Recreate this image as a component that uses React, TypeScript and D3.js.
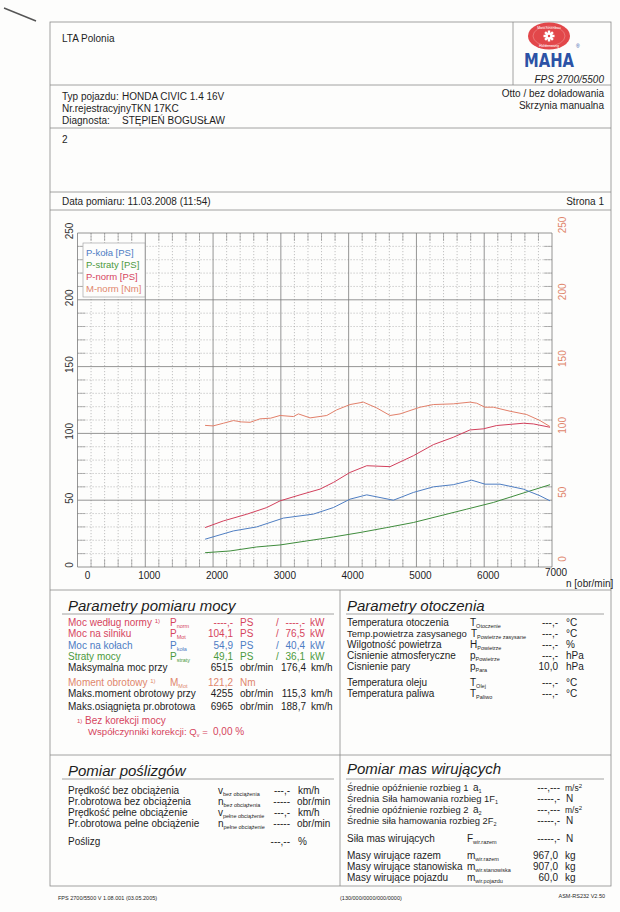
import React from 'react';
import * as d3 from 'd3';

const rpmTicks = [0, 1000, 2000, 3000, 4000, 5000, 6000, 7000];
const leftTicks = [0, 50, 100, 150, 200, 250];
const rightTicks = [0, 50, 100, 150, 200, 250];
const legendLabels = ['P-koła [PS]', 'P-straty [PS]', 'P-norm [PS]', 'M-norm [Nm]'];

const kolaRpm = [1882, 2300, 2644, 3037, 3480, 3775, 4021, 4267, 4660, 4955, 5250, 5544, 5815, 6012, 6233, 6577, 6823, 6971];
const kolaPS = [20.8, 27, 30, 36.6, 39.6, 44.5, 50.8, 54, 50, 55.8, 60, 61.6, 65, 62, 62, 58.3, 53.3, 49.5];

const stratyRpm = [1882, 2251, 2644, 2988, 3382, 3775, 4168, 4562, 4955, 5348, 5742, 6135, 6528, 6971];
const stratyPS = [10.7, 12, 15, 16.5, 19.5, 22.5, 25.8, 29.5, 33.3, 38.3, 43.3, 48.3, 54.6, 61.6];

const normRpm = [1882, 2152, 2497, 2792, 2988, 3283, 3578, 3775, 4021, 4267, 4611, 4955, 5250, 5544, 5790, 5987, 6184, 6577, 6725, 6971];
const normPS = [29.5, 34.5, 39.5, 44.5, 49.5, 54, 58.3, 63.3, 70.8, 75.8, 75.1, 83.3, 91.6, 97.1, 102.6, 103.4, 105.9, 107.6, 107.1, 104.6];

const torqueRpm = [1882, 2000, 2152, 2300, 2420, 2546, 2693, 2850, 2988, 3185, 3259, 3431, 3677, 3824, 4021, 4217, 4413, 4611, 4758, 5053, 5250, 5544, 5790, 5889, 6012, 6135, 6381, 6627, 6823, 6971];
const torqueNm = [106, 105.6, 107.6, 109.6, 108.6, 108.3, 110.9, 111.4, 113.4, 112.6, 114.6, 111.6, 113.4, 117.6, 121.6, 123.4, 119.1, 113.4, 114.6, 119.6, 121.6, 122.1, 123.4, 122.6, 119.6, 119.6, 116.6, 114.1, 109.6, 105.1];

const C_BLUE = '#4f7ec2';
const C_GREEN = '#3f8c3c';
const C_RED = '#d2405c';
const C_ORANGE = '#e2806a';
const T_RED = '#d6455e';
const T_BLUE = '#4d7cc4';
const T_GREEN = '#4c9a3c';
const T_ORANGE = '#e0866c';
const INK = '#1e1e1e';
const LINE = '#8a8a8a';
const FONT = '"Liberation Sans", Arial, sans-serif';

function Sym({ x, y, main, sub, fill = INK, size = 10 }: any) {
  return (
    <text x={x} y={y} fontSize={size} fill={fill} fontFamily={FONT}>
      {main}
      <tspan fontSize={5.5} dy={2}>{sub}</tspan>
    </text>
  );
}

function T({ x, y, children, fill = INK, size = 10, anchor = 'start', italic = false, weight = 'normal' }: any) {
  return (
    <text x={x} y={y} fontSize={size} fill={fill} fontFamily={FONT} textAnchor={anchor}
      fontStyle={italic ? 'italic' : 'normal'} fontWeight={weight}>{children}</text>
  );
}

export default function App() {
  const x = d3.scaleLinear().domain([0, 7000]).range([77.5, 552]);
  const y = d3.scaleLinear().domain([0, 250]).range([567, 233]);
  const minorX = d3.range(0, 7001, 200);
  const minorY = d3.range(0, 251, 10);
  const mk = (rs: number[], vs: number[]) =>
    d3.line<[number, number]>().x(d => x(d[0])).y(d => y(d[1]))(rs.map((r, i) => [r, vs[i]] as [number, number])) || '';

  const series = [
    { d: mk(stratyRpm, stratyPS), c: C_GREEN },
    { d: mk(kolaRpm, kolaPS), c: C_BLUE },
    { d: mk(normRpm, normPS), c: C_RED },
    { d: mk(torqueRpm, torqueNm), c: C_ORANGE },
  ];
  const legendColors = [T_BLUE, T_GREEN, T_RED, T_ORANGE];

  const L = 50, R = 611;
  const x0 = x(0), x1 = x(7000), yTop = y(250), yBot = y(0);

  const gear = d3.range(8).map(i => i * 45);
  const lcx = 549, lcy = 36;

  return (
    <div style={{ position: 'absolute', left: 0, top: 0 }}>
      <svg width={620} height={912} style={{ display: 'block', background: '#fdfdfc' }}>
        <rect x={0} y={0} width={620} height={912} fill="#fdfdfc" />
        <line x1={4} y1={8} x2={36} y2={21} stroke="#555" strokeWidth={1.4} />

        <g stroke={LINE} strokeWidth={0.8} fill="none">
          <rect x={L} y={22} width={R - L} height={864} />
          <line x1={L} y1={85} x2={R} y2={85} />
          <line x1={513} y1={22} x2={513} y2={85} />
          <line x1={L} y1={128} x2={R} y2={128} />
          <line x1={L} y1={192} x2={R} y2={192} />
          <line x1={L} y1={210} x2={R} y2={210} />
          <line x1={L} y1={590} x2={R} y2={590} />
          <line x1={340} y1={590} x2={340} y2={886} />
          <line x1={L} y1={755} x2={R} y2={755} />
          <line x1={62} y1={614} x2={334} y2={614} />
          <line x1={346} y1={614} x2={604} y2={614} />
          <line x1={62} y1={779} x2={334} y2={779} />
          <line x1={346} y1={779} x2={604} y2={779} />
        </g>

        <T x={62} y={42}>LTA Polonia</T>
        <g>
          <ellipse cx={lcx} cy={lcy} rx={21} ry={13.5} fill="#e2474a" />
          <ellipse cx={lcx} cy={lcy} rx={16} ry={9.8} fill="none" stroke="#f3a0a0" strokeWidth={0.5} />
          {gear.map(a => (
            <rect key={a} x={lcx - 1.2} y={lcy - 5.5} width={2.4} height={3.5} fill="#fff"
              transform={`rotate(${a} ${lcx} ${lcy})`} />
          ))}
          <circle cx={lcx} cy={lcy} r={3.6} fill="#fff" />
          <circle cx={lcx} cy={lcy} r={1.2} fill="#e2474a" />
          <text x={lcx} y={lcy - 7.5} fontSize={3.6} fill="#fff" textAnchor="middle" fontFamily={FONT}>Maschinenbau</text>
          <text x={lcx} y={lcy + 10.5} fontSize={3.6} fill="#fff" textAnchor="middle" fontFamily={FONT}>Haldenwang</text>
          <text x={lcx} y={67} fontSize={19} fontWeight="bold" fill="#2c52a6" textAnchor="middle"
            fontFamily='"DejaVu Sans", sans-serif' textLength={50} lengthAdjust="spacingAndGlyphs">MAHA</text>
          <text x={576} y={48} fontSize={5} fill="#2c52a6" fontFamily={FONT}>®</text>
          <T x={604} y={83} anchor="end" italic size={10}>FPS 2700/5500</T>
        </g>

        <T x={62} y={100}>Typ pojazdu:</T>
        <T x={122} y={100}>HONDA CIVIC 1.4 16V</T>
        <T x={62} y={112}>Nr.rejestracyjnyTKN 17KC</T>
        <T x={62} y={124}>Diagnosta:</T>
        <T x={122} y={124}>STĘPIEŃ BOGUSŁAW</T>
        <T x={604} y={97} anchor="end">Otto / bez doładowania</T>
        <T x={604} y={109} anchor="end">Skrzynia manualna</T>
        <T x={62} y={143}>2</T>
        <T x={62} y={205}>Data pomiaru: 11.03.2008 (11:54)</T>
        <T x={604} y={205} anchor="end">Strona 1</T>

        <g>
          {minorX.filter(v => v % 1000 !== 0).map(v => (
            <g key={'vx' + v}>
              <line x1={x(v)} x2={x(v)} y1={yTop} y2={yBot} stroke="#9a9a9a" strokeWidth={0.6} strokeDasharray="1.2,1.8" />
              <line x1={x(v)} x2={x(v)} y1={yTop} y2={yTop + 8} stroke="#888" strokeWidth={0.6} />
              <line x1={x(v)} x2={x(v)} y1={yBot - 8} y2={yBot} stroke="#888" strokeWidth={0.6} />
            </g>
          ))}
          {minorY.filter(v => v % 50 !== 0).map(v => (
            <g key={'hy' + v}>
              <line x1={x0} x2={x1} y1={y(v)} y2={y(v)} stroke="#9a9a9a" strokeWidth={0.6} strokeDasharray="1.2,1.8" />
              <line x1={x0} x2={x0 + 8} y1={y(v)} y2={y(v)} stroke="#888" strokeWidth={0.6} />
              <line x1={x1 - 8} x2={x1} y1={y(v)} y2={y(v)} stroke="#888" strokeWidth={0.6} />
            </g>
          ))}
          {rpmTicks.map(v => (
            <line key={'mx' + v} x1={x(v)} x2={x(v)} y1={yTop} y2={yBot} stroke="#7a7a7a" strokeWidth={0.8} />
          ))}
          {leftTicks.map(v => (
            <line key={'my' + v} x1={x0} x2={x1} y1={y(v)} y2={y(v)} stroke="#7a7a7a" strokeWidth={0.8} />
          ))}
        </g>

        {series.map((s, i) => (
          <path key={i} d={s.d} fill="none" stroke={s.c} strokeWidth={1} />
        ))}

        {rpmTicks.map(v => (
          <T key={'xl' + v} x={x(v) + (v === 0 ? 10 : 4)} y={v === 7000 ? 576 : 579} anchor="middle">{v}</T>
        ))}
        <T x={566} y={587}>n [obr/min]</T>
        {leftTicks.map(v => (
          <text key={'yl' + v} transform={`translate(73,${y(v) - 2}) rotate(-90)`} fontSize={10}
            fill="#333" textAnchor="middle" fontFamily={FONT}>{v}</text>
        ))}
        {rightTicks.map(v => (
          <text key={'yr' + v} transform={`translate(566,${y(v) - 8}) rotate(-90)`} fontSize={10}
            fill={T_ORANGE} textAnchor="middle" fontFamily={FONT}>{v}</text>
        ))}

        <rect x={83} y={243} width={62} height={54} fill="#fdfdfc" stroke="#999" strokeWidth={0.6} />
        {legendLabels.map((l, i) => (
          <T key={l} x={86} y={256 + i * 12} fill={legendColors[i]} size={9.5}>{l}</T>
        ))}

        {/* Parametry pomiaru mocy */}
        <T x={68} y={611} size={15} italic>Parametry pomiaru mocy</T>
        <T x={68} y={626} fill={T_RED}>Moc według normy <tspan fontSize={6} dy={-3}>1)</tspan></T>
        <Sym x={170} y={626} main="P" sub="norm" fill={T_RED} />
        <T x={233} y={626} anchor="end" fill={T_RED}>----,-</T>
        <T x={240} y={626} fill={T_RED}>PS</T>
        <T x={276} y={626} fill={T_RED}>/</T>
        <T x={305} y={626} anchor="end" fill={T_RED}>----,-</T>
        <T x={310} y={626} fill={T_RED}>kW</T>

        <T x={68} y={637} fill={T_RED}>Moc na silniku</T>
        <Sym x={170} y={637} main="P" sub="Mot" fill={T_RED} />
        <T x={233} y={637} anchor="end" fill={T_RED}>104,1</T>
        <T x={240} y={637} fill={T_RED}>PS</T>
        <T x={276} y={637} fill={T_RED}>/</T>
        <T x={305} y={637} anchor="end" fill={T_RED}>76,5</T>
        <T x={310} y={637} fill={T_RED}>kW</T>

        <T x={68} y={649} fill={T_BLUE}>Moc na kołach</T>
        <Sym x={170} y={649} main="P" sub="koła" fill={T_BLUE} />
        <T x={233} y={649} anchor="end" fill={T_BLUE}>54,9</T>
        <T x={240} y={649} fill={T_BLUE}>PS</T>
        <T x={276} y={649} fill={T_BLUE}>/</T>
        <T x={305} y={649} anchor="end" fill={T_BLUE}>40,4</T>
        <T x={310} y={649} fill={T_BLUE}>kW</T>

        <T x={68} y={660} fill={T_GREEN}>Straty mocy</T>
        <Sym x={170} y={660} main="P" sub="straty" fill={T_GREEN} />
        <T x={233} y={660} anchor="end" fill={T_GREEN}>49,1</T>
        <T x={240} y={660} fill={T_GREEN}>PS</T>
        <T x={276} y={660} fill={T_GREEN}>/</T>
        <T x={305} y={660} anchor="end" fill={T_GREEN}>36,1</T>
        <T x={310} y={660} fill={T_GREEN}>kW</T>

        <T x={68} y={671}>Maksymalna moc przy</T>
        <T x={233} y={671} anchor="end">6515</T>
        <T x={240} y={671}>obr/min</T>
        <T x={306} y={671} anchor="end">176,4</T>
        <T x={311} y={671}>km/h</T>

        <T x={68} y={686} fill={T_ORANGE}>Moment obrotowy <tspan fontSize={6} dy={-3}>1)</tspan></T>
        <Sym x={170} y={686} main="M" sub="Mot" fill={T_ORANGE} />
        <T x={233} y={686} anchor="end" fill={T_ORANGE}>121,2</T>
        <T x={240} y={686} fill={T_ORANGE}>Nm</T>

        <T x={68} y={697}>Maks.moment obrotowy przy</T>
        <T x={233} y={697} anchor="end">4255</T>
        <T x={240} y={697}>obr/min</T>
        <T x={306} y={697} anchor="end">115,3</T>
        <T x={311} y={697}>km/h</T>

        <T x={68} y={710}>Maks.osiągnięta pr.obrotowa</T>
        <T x={233} y={710} anchor="end">6965</T>
        <T x={240} y={710}>obr/min</T>
        <T x={306} y={710} anchor="end">188,7</T>
        <T x={311} y={710}>km/h</T>

        <T x={77} y={724} fill={T_RED}><tspan fontSize={6} dy={-1}>1)</tspan><tspan dy={1}> Bez korekcji mocy</tspan></T>
        <T x={88} y={735} fill={T_RED} size={9.6}>Współczynniki korekcji: Q<tspan fontSize={5.5} dy={2}>v</tspan><tspan dy={-2}> =</tspan></T>
        <T x={213} y={735} fill={T_RED}>0,00 %</T>

        {/* Parametry otoczenia */}
        <T x={347} y={611} size={15} italic>Parametry otoczenia</T>
        <T x={347} y={626}>Temperatura otoczenia</T>
        <Sym x={470} y={626} main="T" sub="Otoczenie" />
        <T x={558} y={626} anchor="end">---,-</T>
        <T x={566} y={626}>°C</T>
        <T x={347} y={637} size={9.5}>Temp.powietrza zasysanego</T>
        <Sym x={471} y={637} main="T" sub="Powietrze zasysane" />
        <T x={558} y={637} anchor="end">---,-</T>
        <T x={566} y={637}>°C</T>
        <T x={347} y={648}>Wilgotność powietrza</T>
        <Sym x={470} y={648} main="H" sub="Powietrze" />
        <T x={558} y={648} anchor="end">---,-</T>
        <T x={566} y={648}>%</T>
        <T x={347} y={659}>Cisnienie atmosferyczne</T>
        <Sym x={470} y={659} main="p" sub="Powietrze" />
        <T x={558} y={659} anchor="end">---,-</T>
        <T x={566} y={659}>hPa</T>
        <T x={347} y={670}>Cisnienie pary</T>
        <Sym x={470} y={670} main="p" sub="Para" />
        <T x={558} y={670} anchor="end">10,0</T>
        <T x={566} y={670}>hPa</T>
        <T x={347} y={686}>Temperatura oleju</T>
        <Sym x={470} y={686} main="T" sub="Olej" />
        <T x={558} y={686} anchor="end">---,-</T>
        <T x={566} y={686}>°C</T>
        <T x={347} y={697}>Temperatura paliwa</T>
        <Sym x={470} y={697} main="T" sub="Paliwo" />
        <T x={558} y={697} anchor="end">---,-</T>
        <T x={566} y={697}>°C</T>

        {/* Pomiar poślizgów */}
        <T x={68} y={776} size={15} italic>Pomiar poślizgów</T>
        <T x={68} y={794}>Prędkość bez obciążenia</T>
        <Sym x={218} y={794} main="v" sub="bez obciążenia" />
        <T x={290} y={794} anchor="end">---,-</T>
        <T x={298} y={794}>km/h</T>
        <T x={68} y={805}>Pr.obrotowa bez obciążenia</T>
        <Sym x={218} y={805} main="n" sub="bez obciążenia" />
        <T x={290} y={805} anchor="end">-----</T>
        <T x={297} y={805}>obr/min</T>
        <T x={68} y={816}>Prędkość pełne obciążenie</T>
        <Sym x={218} y={816} main="v" sub="pełne obciążenie" />
        <T x={290} y={816} anchor="end">---,-</T>
        <T x={298} y={816}>km/h</T>
        <T x={68} y={827}>Pr.obrotowa pełne obciążenie</T>
        <Sym x={218} y={827} main="n" sub="pełne obciążenie" />
        <T x={290} y={827} anchor="end">-----</T>
        <T x={297} y={827}>obr/min</T>
        <T x={68} y={845}>Poślizg</T>
        <T x={290} y={845} anchor="end">---,--</T>
        <T x={298} y={845}>%</T>

        {/* Pomiar mas wirujących */}
        <T x={347} y={774} size={15} italic>Pomiar mas wirujących</T>
        <T x={347} y={791} size={9.4}>Średnie opóźnienie rozbieg 1</T>
        <Sym x={473} y={791} main="a" sub="1" />
        <T x={560} y={791} anchor="end">---,---</T>
        <T x={565} y={791} size={8.5}>m/s<tspan fontSize={6} dy={-3}>2</tspan></T>
        <T x={347} y={802} size={9.4}>Średnia Siła hamowania rozbieg 1F<tspan fontSize={5.5} dy={2}>1</tspan></T>
        <T x={560} y={802} anchor="end">-----,-</T>
        <T x={566} y={802}>N</T>
        <T x={347} y={813} size={9.4}>Średnie opóźnienie rozbieg 2</T>
        <Sym x={473} y={813} main="a" sub="2" />
        <T x={560} y={813} anchor="end">---,---</T>
        <T x={565} y={813} size={8.5}>m/s<tspan fontSize={6} dy={-3}>2</tspan></T>
        <T x={347} y={824} size={9.4}>Średnie siła hamowania rozbieg 2F<tspan fontSize={5.5} dy={2}>2</tspan></T>
        <T x={560} y={824} anchor="end">-----,-</T>
        <T x={566} y={824}>N</T>
        <T x={347} y={842}>Siła mas wirujących</T>
        <Sym x={467} y={842} main="F" sub="wir.razem" />
        <T x={560} y={842} anchor="end">-----,-</T>
        <T x={566} y={842}>N</T>
        <T x={347} y={859}>Masy wirujące razem</T>
        <Sym x={467} y={859} main="m" sub="wir.razem" />
        <T x={558} y={859} anchor="end">967,0</T>
        <T x={565} y={859}>kg</T>
        <T x={347} y={870}>Masy wirujące stanowiska</T>
        <Sym x={467} y={870} main="m" sub="wir.stanowiska" />
        <T x={558} y={870} anchor="end">907,0</T>
        <T x={565} y={870}>kg</T>
        <T x={347} y={881}>Masy wirujące pojazdu</T>
        <Sym x={467} y={881} main="m" sub="wir.pojazdu" />
        <T x={558} y={881} anchor="end">60,0</T>
        <T x={565} y={881}>kg</T>

        <T x={58} y={900} size={5.5}>FPS 2700/5500 V 1.08.001 (03.05.2005)</T>
        <T x={340} y={900} size={5.5}>(130/000/0000/000/0000)</T>
        <T x={605} y={898} size={5.5} anchor="end">ASM-RS232 V2.50</T>
      </svg>
    </div>
  );
}
